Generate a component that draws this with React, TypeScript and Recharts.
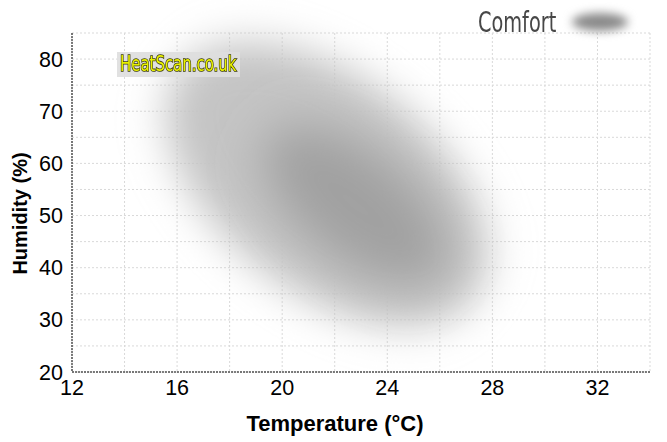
import React from "react";
import {
  ScatterChart,
  XAxis,
  YAxis,
  CartesianGrid,
  ReferenceArea,
} from "recharts";

// axis ticks (grid every 2 °C / 5 %, labels every 4 °C / 10 %)
const tempTicks = [12, 14, 16, 18, 20, 22, 24, 26, 28, 30, 32];
const tempLabels = [12, 16, 20, 24, 28, 32];
const humTicks = [20, 25, 30, 35, 40, 45, 50, 55, 60, 65, 70, 75, 80];
const humLabels = [20, 30, 40, 50, 60, 70, 80];

// comfort zone: haze and core, each an ellipse framed by temperature / humidity spans
const zoneNames = ["haze", "core"];
const zoneTemp = [
  [14.6, 28.8],
  [18.6, 27.0],
];
const zoneHum = [
  [35.4, 76.6],
  [41.5, 62.5],
];

const zoneStyle: Record<string, { fill: string; blur: number; opacity: number }> = {
  haze: { fill: "#c4c4c4", blur: 20, opacity: 1 },
  core: { fill: "#8a8a8a", blur: 24, opacity: 0.62 },
};

const BlobShape = (props: any) => {
  const { x, y, width, height, name } = props;
  const st = zoneStyle[name];
  const cx = x + width / 2;
  const cy = y + height / 2;
  const fid = "blur-" + name;
  return (
    <g>
      <defs>
        <filter id={fid} x="-100%" y="-100%" width="300%" height="300%">
          <feGaussianBlur stdDeviation={st.blur} />
        </filter>
      </defs>
      <ellipse
        cx={cx}
        cy={cy}
        rx={Math.abs(width) / 2}
        ry={Math.abs(height) / 2}
        transform={`rotate(38 ${cx} ${cy})`}
        fill={st.fill}
        fillOpacity={st.opacity}
        filter={`url(#${fid})`}
      />
    </g>
  );
};

const narrowFont = "'DejaVu Sans Condensed', 'Liberation Sans Narrow', sans-serif";
const axisFont = { fontFamily: "'Liberation Sans', Arial, sans-serif" };

export default function App() {
  return (
    <div
      style={{
        position: "absolute",
        left: 0,
        top: 0,
        width: 667,
        height: 442,
        background: "#fff",
      }}
    >
      <ScatterChart
        width={667}
        height={442}
        margin={{ top: 33, right: 17, bottom: 40, left: 0 }}
      >
        <CartesianGrid stroke="#d9d9d9" strokeDasharray="2 2" />
        <XAxis
          type="number"
          dataKey="t"
          domain={[12, 34]}
          ticks={tempTicks}
          tickFormatter={(v: number) => (tempLabels.includes(v) ? String(v) : "")}
          tickLine={false}
          axisLine={{ stroke: "#000", strokeDasharray: "2 1" }}
          tick={{ fill: "#000", fontSize: 21.5, ...axisFont }}
          tickMargin={2}
          height={30}
          allowDataOverflow
          label={{
            value: "Temperature (°C)",
            position: "bottom",
            offset: 13,
            dx: -26,
            fill: "#000",
            fontSize: 22,
            fontWeight: "bold",
            ...axisFont,
          }}
        />
        <YAxis
          type="number"
          dataKey="h"
          domain={[20, 85]}
          ticks={humTicks}
          tickFormatter={(v: number) => (humLabels.includes(v) ? String(v) : "")}
          tickLine={false}
          axisLine={{ stroke: "#000", strokeDasharray: "2 1" }}
          tick={{ fill: "#000", fontSize: 21.5, ...axisFont }}
          tickMargin={3}
          width={72}
          allowDataOverflow
          label={{
            value: "Humidity (%)",
            angle: -90,
            position: "insideLeft",
            offset: 20,
            dy: 11,
            fill: "#000",
            fontSize: 20,
            fontWeight: "bold",
            style: { textAnchor: "middle" },
            ...axisFont,
          }}
        />
        {zoneNames.map((n, i) => (
          <ReferenceArea
            key={n}
            x1={zoneTemp[i][0]}
            x2={zoneTemp[i][1]}
            y1={zoneHum[i][0]}
            y2={zoneHum[i][1]}
            ifOverflow="visible"
            shape={<BlobShape name={n} />}
          />
        ))}
      </ScatterChart>
      {/* legend */}
      <div
        style={{
          position: "absolute",
          left: 478,
          top: 5,
          display: "flex",
          alignItems: "center",
        }}
      >
        <span
          style={{
            display: "inline-block",
            width: 82,
            fontFamily: narrowFont,
            fontSize: 29,
            color: "#474747",
            transform: "scaleX(0.74)",
            transformOrigin: "left center",
            whiteSpace: "nowrap",
          }}
        >
          Comfort
        </span>
        <div
          style={{
            marginLeft: 12,
            width: 56,
            height: 18,
            borderRadius: "50%",
            background: "#8a8a8a",
            filter: "blur(5px)",
          }}
        />
      </div>
      {/* watermark */}
      <div
        style={{
          position: "absolute",
          left: 117,
          top: 52,
          width: 123,
          height: 25,
          background: "rgba(222,222,222,0.9)",
          overflow: "hidden",
        }}
      >
        <span
          style={{
            display: "inline-block",
            marginLeft: 3,
            lineHeight: "25px",
            fontFamily: narrowFont,
            fontSize: 21,
            color: "#eaf200",
            WebkitTextStroke: "1.6px #3a3a10",
            paintOrder: "stroke fill",
            transform: "scaleX(0.79)",
            transformOrigin: "left center",
            whiteSpace: "nowrap",
          }}
        >
          HeatScan.co.uk
        </span>
      </div>
    </div>
  );
}
